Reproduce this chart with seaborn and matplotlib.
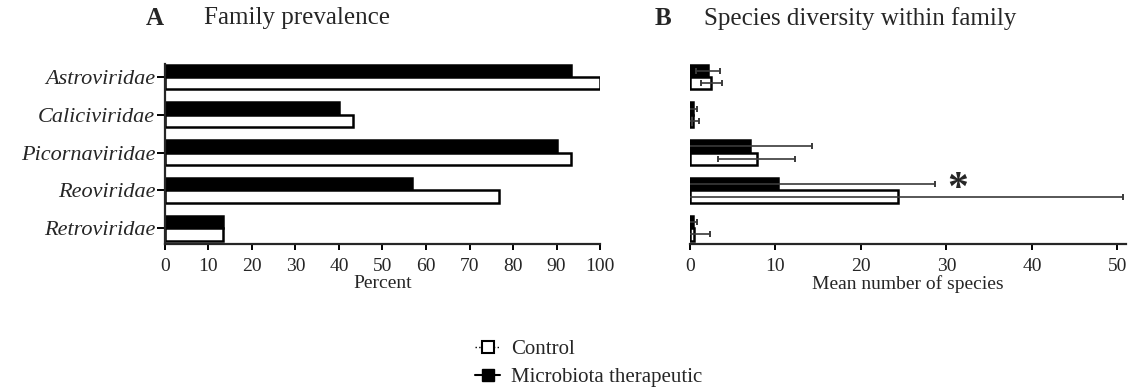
import numpy as np
import pandas as pd
import matplotlib
matplotlib.use("Agg")
import matplotlib.pyplot as plt
from matplotlib.lines import Line2D
import seaborn as sns

families = ["Astroviridae", "Caliciviridae", "Picornaviridae", "Reoviridae", "Retroviridae"]
groups = ["Microbiota therapeutic", "Control"]

# Panel A: percent of samples positive for each family
prev_treated = [93.3, 40.0, 90.0, 56.7, 13.3]
prev_control = [100.0, 43.3, 93.3, 76.7, 13.3]

# Panel B: mean number of species within family, with SD
div_treated = [2.1, 0.3, 7.0, 10.3, 0.3]
div_treated_sd = [1.4, 0.5, 7.3, 18.3, 0.5]
div_control = [2.5, 0.3, 7.8, 24.3, 0.5]
div_control_sd = [1.25, 0.8, 4.5, 26.3, 1.8]

sns.set_style("ticks")
plt.rcParams["font.family"] = ["Liberation Serif", "DejaVu Serif"]
plt.rcParams["axes.linewidth"] = 1.6

def long_table(treated, control):
    return pd.DataFrame({
        "family": families * 2,
        "group": [groups[0]] * len(families) + [groups[1]] * len(families),
        "value": list(treated) + list(control),
    })

palette = {groups[0]: "black", groups[1]: "white"}

fig = plt.figure(figsize=(11.36, 3.91), dpi=100)
axA = fig.add_axes([0.1452, 0.376, 0.383, 0.460])
axB = fig.add_axes([0.6074, 0.376, 0.3838, 0.460])

for ax, df in ((axA, long_table(prev_treated, prev_control)),
               (axB, long_table(div_treated, div_control))):
    sns.barplot(data=df, y="family", x="value", hue="group", hue_order=groups,
                order=families, palette=palette, orient="h", width=0.66,
                edgecolor="black", linewidth=1.8, errorbar=None, legend=False, ax=ax)
    ax.set_ylim(4.42, -0.34)
    ax.set_ylabel("")
    ax.tick_params(axis="x", direction="out", length=4, width=1.4,
                   labelsize=14, pad=6, color="black")

# Error bars for panel B drawn at the bar centres
for cont, means, sds in ((axB.containers[0], div_treated, div_treated_sd),
                         (axB.containers[1], div_control, div_control_sd)):
    ys = [p.get_y() + p.get_height() / 2 for p in cont.patches]
    axB.errorbar(means, ys, xerr=sds, fmt="none", ecolor="#3a3a3a",
                 elinewidth=1.2, capsize=2.5, capthick=1.4, zorder=5)

# Panel A styling
axA.set_xlim(0, 100)
axA.set_xticks(np.arange(0, 101, 10))
axA.set_xlabel("Percent", fontsize=14, labelpad=0)
axA.tick_params(axis="y", direction="out", length=6, width=1.4,
                labelsize=16, pad=1, color="black")
for lab in axA.get_yticklabels():
    lab.set_fontstyle("italic")
sns.despine(ax=axA)

# Panel B styling
axB.set_xlim(0, 51)
axB.set_xticks(np.arange(0, 51, 10))
axB.set_xlabel("Mean number of species", fontsize=14, labelpad=0)
axB.set_yticks([])
sns.despine(ax=axB, left=True)
axB.text(31.3, 3.0, "*", fontsize=30, fontweight="bold", ha="center", va="center")

# Panel headings
fig.text(0.128, 0.953, "A", fontsize=18, fontweight="bold", va="center")
fig.text(0.180, 0.953, "Family prevalence", fontsize=18, va="center")
fig.text(0.576, 0.953, "B", fontsize=18, fontweight="bold", va="center")
fig.text(0.620, 0.953, "Species diversity within family", fontsize=18, va="center")

handles = [
    Line2D([], [], color="black", lw=1.0, ls=":", marker="s", markersize=8,
           markerfacecolor="white", markeredgecolor="black", markeredgewidth=1.5),
    Line2D([], [], color="black", lw=1.5, marker="s", markersize=8,
           markerfacecolor="black", markeredgecolor="black"),
]
fig.legend(handles, ["Control", "Microbiota therapeutic"], loc="center left",
           bbox_to_anchor=(0.402, 0.07), frameon=False, fontsize=15,
           handlelength=1.2, handletextpad=0.5, labelspacing=0.4)

fig.savefig("out.png", dpi=100)
